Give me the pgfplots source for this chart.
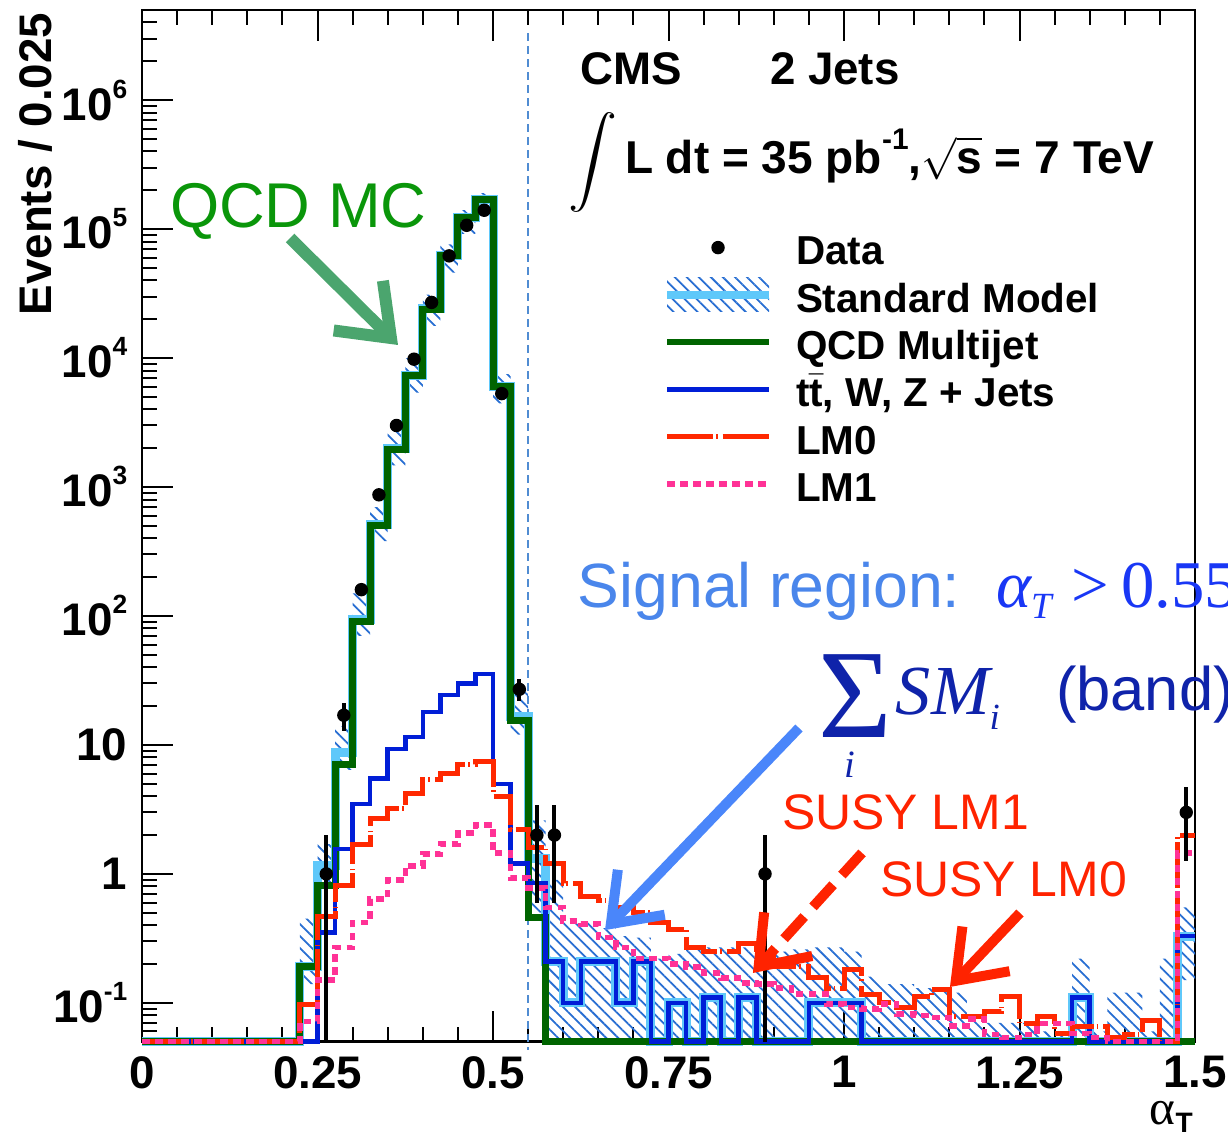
\documentclass[border=0pt]{standalone}
\usepackage{graphicx}
\usepackage{pgfplots}
\pgfplotsset{compat=1.18}
\usepackage{pgfplotstable}
\usepgfplotslibrary{fillbetween}
\usetikzlibrary{patterns.meta,arrows.meta}
\usepackage{fontspec}
\setmainfont{Liberation Sans}
\newfontfamily\timesf{Liberation Serif}

\definecolor{qcdgreen}{RGB}{0,100,0}
\definecolor{ewkblue}{RGB}{0,30,215}
\definecolor{lmred}{RGB}{255,40,0}
\definecolor{lmpink}{RGB}{255,50,150}
\definecolor{smcyan}{RGB}{95,200,250}
\definecolor{hatchblue}{RGB}{40,110,210}
\definecolor{cutblue}{RGB}{80,140,210}
\definecolor{annGreen}{RGB}{10,150,10}
\definecolor{arrGreen}{RGB}{75,165,110}
\definecolor{sigblue}{RGB}{74,134,235}
\definecolor{alphablue}{RGB}{25,55,245}
\definecolor{sumblue}{RGB}{15,35,170}
\definecolor{arrBlue}{RGB}{74,134,250}
\definecolor{susyred}{RGB}{255,35,0}

\newcommand{\tp}[1]{10\raisebox{2.2mm}{\fontsize{7.5}{7.5}\selectfont\bfseries #1}}
\newcommand{\ls}{\rule[-1.05mm]{0pt}{5.05mm}}

\pgfplotstableread{
x qcd ewk sm lo hi lmz lmo
0.000 0.05 0.05 0.05 0.05 0.05 0.05 0.05
0.025 0.05 0.05 0.05 0.05 0.05 0.05 0.05
0.050 0.05 0.05 0.05 0.05 0.05 0.05 0.05
0.075 0.05 0.05 0.05 0.05 0.05 0.05 0.05
0.100 0.05 0.05 0.05 0.05 0.05 0.05 0.05
0.125 0.05 0.05 0.05 0.05 0.05 0.05 0.05
0.150 0.05 0.05 0.05 0.05 0.05 0.05 0.05
0.175 0.05 0.05 0.05 0.05 0.05 0.05 0.05
0.200 0.05 0.05 0.05 0.05 0.05 0.05 0.05
0.225 0.19 0.05 0.19 0.14 0.45 0.098 0.072
0.250 0.81 0.35 1.16 0.86 1.7 0.47 0.15
0.275 7.1 1.56 8.7 6.4 14 0.82 0.27
0.300 91 3.5 94.5 70 150 1.7 0.42
0.325 507 5.5 512 380 700 2.67 0.64
0.350 1970 9.3 1980 1470 2750 3.2 0.9
0.375 7300 11.5 7310 5400 10000 4.2 1.15
0.400 24000 18 24020 17800 31000 5.4 1.43
0.425 62000 24.4 62020 46000 76000 6.0 1.7
0.450 124000 30 124030 92000 140000 7.1 2.08
0.475 171000 35.5 171040 127000 190000 7.4 2.4
0.500 6000 5.0 6005 4450 7500 4.0 1.45
0.525 15.5 1.2 16.7 12 26 2.2 0.93
0.550 0.46 0.85 1.31 0.5 2.6 1.6 0.78
0.575 0.05 0.21 0.21 0.05 0.9 1.2 0.55
0.600 0.05 0.1 0.1 0.05 0.45 0.84 0.43
0.625 0.05 0.21 0.21 0.05 0.42 0.67 0.41
0.650 0.05 0.21 0.21 0.05 0.38 0.62 0.32
0.675 0.05 0.1 0.1 0.05 0.33 0.55 0.27
0.700 0.05 0.21 0.21 0.05 0.32 0.5 0.22
0.725 0.05 0.05 0.05 0.05 0.22 0.42 0.22
0.750 0.05 0.1 0.1 0.05 0.24 0.37 0.2
0.775 0.05 0.05 0.05 0.05 0.26 0.27 0.19
0.800 0.05 0.11 0.11 0.05 0.27 0.25 0.17
0.825 0.05 0.05 0.05 0.05 0.27 0.25 0.156
0.850 0.05 0.11 0.11 0.05 0.27 0.29 0.143
0.875 0.05 0.05 0.05 0.05 0.22 0.24 0.14
0.900 0.05 0.05 0.05 0.05 0.25 0.19 0.13
0.925 0.05 0.05 0.05 0.05 0.26 0.19 0.117
0.950 0.05 0.1 0.1 0.05 0.27 0.156 0.117
0.975 0.05 0.1 0.1 0.05 0.27 0.13 0.098
1.000 0.05 0.1 0.1 0.05 0.25 0.18 0.092
1.025 0.05 0.05 0.05 0.05 0.16 0.117 0.09
1.050 0.05 0.05 0.05 0.05 0.14 0.1 0.098
1.075 0.05 0.05 0.05 0.05 0.14 0.092 0.082
1.100 0.05 0.05 0.05 0.05 0.13 0.113 0.08
1.125 0.05 0.05 0.05 0.05 0.13 0.128 0.077
1.150 0.05 0.05 0.05 0.05 0.12 0.079 0.066
1.175 0.05 0.05 0.05 0.05 0.08 0.079 0.075
1.200 0.05 0.05 0.05 0.05 0.07 0.085 0.057
1.225 0.05 0.05 0.05 0.05 0.07 0.113 0.054
1.250 0.05 0.05 0.05 0.05 0.07 0.069 0.057
1.275 0.05 0.05 0.05 0.05 0.06 0.079 0.069
1.300 0.05 0.05 0.05 0.05 0.06 0.058 0.069
1.325 0.05 0.11 0.11 0.05 0.22 0.066 0.058
1.350 0.05 0.05 0.05 0.05 0.06 0.066 0.054
1.375 0.05 0.05 0.05 0.05 0.12 0.054 0.05
1.400 0.05 0.05 0.05 0.05 0.12 0.057 0.05
1.425 0.05 0.05 0.05 0.05 0.06 0.073 0.05
1.450 0.05 0.05 0.05 0.05 0.22 0.05 0.05
1.475 0.05 0.33 0.33 0.15 0.55 2.0 1.45
1.500 0.05 0.33 0.33 0.15 0.55 2.0 1.45
}\hist

\pgfplotstableread{
x y ep em
0.2625 1 1 0.95
0.2875 17 4.1 4.1
0.3125 160 12.6 12.6
0.3375 870 29.5 29.5
0.3625 3000 55 55
0.3875 9800 99 99
0.4125 27000 164 164
0.4375 62000 249 249
0.4625 107000 327 327
0.4875 140000 374 374
0.5125 5300 73 73
0.5375 27 5.2 5.2
0.5625 2 1.41 1.41
0.5875 2 1.41 1.41
0.8875 1 1 0.95
1.4875 3 1.73 1.73
}\data

\begin{document}
\begin{tikzpicture}[ann/.style={inner sep=0pt, outer sep=0pt}]
\begin{axis}[
  scale only axis, width=105.3mm, height=103.17mm,
  xmin=0, xmax=1.5, ymode=log, ymin=0.05, ymax=5e6,
  clip=false,
  axis line style={line width=0.25mm},
  tick style={line width=0.2mm, black},
  major tick length=3.1mm, minor tick length=1.5mm,
  xtick={0,0.25,0.5,0.75,1,1.25,1.5},
  xticklabels={0,0.25,0.5,0.75,1,1.25,1.5},
  minor x tick num=4,
  xtick pos=both, ytick pos=left,
  ytick={0.1,1,10,100,1000,10000,100000,1000000},
  yticklabels={\tp{-1},1,10,\tp{2},\tp{3},\tp{4},\tp{5},\tp{6}},
  minor ytick={0.06,0.07,0.08,0.09,0.2,0.3,0.4,0.5,0.6,0.7,0.8,0.9,2,3,4,5,6,7,8,9,20,30,40,50,60,70,80,90,200,300,400,500,600,700,800,900,2000,3000,4000,5000,6000,7000,8000,9000,20000,30000,40000,50000,60000,70000,80000,90000,200000,300000,400000,500000,600000,700000,800000,900000,2000000,3000000,4000000},
  tick label style={font=\fontsize{13}{15}\selectfont\bfseries},
  xticklabel style={inner sep=0pt, yshift=-1.4mm},
  yticklabel style={inner sep=0pt, xshift=-1.4mm},
  legend cell align=left,
  legend style={at={(axis description cs:0.4948,0.7926)}, anchor=north west,
    draw=none, fill=none, inner sep=0pt, outer sep=0pt, row sep=0pt,
    nodes={inner sep=0.1mm},
    font=\fontsize{11.5}{13}\selectfont\bfseries,
    /tikz/every odd column/.append style={column sep=2.2mm}},
]
% SM uncertainty band
\addplot[draw=none, name path=hi, const plot, forget plot] table[x=x,y=hi]{\hist};
\addplot[draw=none, name path=lo, const plot, forget plot] table[x=x,y=lo]{\hist};
\addplot[draw=none, pattern={Lines[angle=-45,distance=0.85mm,line width=0.18mm]}, pattern color=hatchblue, forget plot] fill between[of=hi and lo];

\draw[cutblue, line width=0.2mm, dash pattern=on 0.8mm off 0.5mm] (axis cs:0.55,3.3e6) -- (axis cs:0.55,0.043);

\addplot[smcyan, line width=0.9mm, const plot, forget plot] table[x=x,y=sm]{\hist};
\addplot[qcdgreen, line width=0.7mm, const plot, forget plot] table[x=x,y=qcd]{\hist};
\addplot[ewkblue, line width=0.45mm, const plot, forget plot] table[x=x,y=ewk]{\hist};
\addplot[lmred, line width=0.5mm, const plot, dash pattern=on 4.6mm off 0.3mm on 0.15mm off 0.5mm, forget plot] table[x=x,y=lmz]{\hist};
\addplot[lmpink, line width=0.55mm, const plot, dash pattern=on 0.75mm off 0.55mm, forget plot] table[x=x,y=lmo]{\hist};
\addplot[black, only marks, mark=*, mark size=0.6mm, forget plot,
  error bars/.cd, y dir=both, y explicit, error mark=none,
  error bar style={line width=0.4mm, black}]
  table[x=x, y=y, y error plus=ep, y error minus=em]{\data};

% legend
\addlegendimage{legend image code/.code={\path (0mm,0mm) (10.2mm,0mm); \fill[black] (5.1mm,0mm) circle (0.6mm);}}
\addlegendentry{\ls Data}
\addlegendimage{legend image code/.code={\path[draw=none, pattern={Lines[angle=-45,distance=0.85mm,line width=0.18mm]}, pattern color=hatchblue] (0mm,-1.7mm) rectangle (10.2mm,1.7mm); \draw[smcyan,line width=0.8mm] (0mm,0mm) -- (10.2mm,0mm);}}
\addlegendentry{\ls Standard Model}
\addlegendimage{legend image code/.code={\draw[qcdgreen,line width=0.65mm] (0mm,0mm) -- (10.2mm,0mm);}}
\addlegendentry{\ls QCD Multijet}
\addlegendimage{legend image code/.code={\draw[ewkblue,line width=0.45mm] (0mm,0mm) -- (10.2mm,0mm);}}
\addlegendentry{\ls t$\bar{\mbox{t}}$, W, Z + Jets}
\addlegendimage{legend image code/.code={\draw[lmred,line width=0.55mm, dash pattern=on 4.6mm off 0.3mm on 0.15mm off 0.5mm] (0mm,0mm) -- (10.2mm,0mm);}}
\addlegendentry{\ls LM0}
\addlegendimage{legend image code/.code={\draw[lmpink,line width=0.55mm, dash pattern=on 0.75mm off 0.55mm] (0mm,0mm) -- (10.2mm,0mm);}}
\addlegendentry{\ls LM1}

% labels and annotations
\node[ann, rotate=90, anchor=base east, font=\fontsize{13}{13}\selectfont\bfseries] at (axis description cs:-0.0855,0.9971) {Events / 0.025};
\node[ann, anchor=base east] at (axis description cs:0.998,-0.0807) {{\timesf\fontsize{14}{14}\selectfont α}\raisebox{-0.8mm}{\fontsize{8}{8}\selectfont\bfseries T}};

\node[ann, anchor=base west, font=\fontsize{13}{13}\selectfont\bfseries] at (axis description cs:0.416,0.9273) {CMS};
\node[ann, anchor=base west, font=\fontsize{13}{13}\selectfont\bfseries] at (axis description cs:0.5964,0.9273) {2 Jets};
\node[ann, anchor=north west] at (axis description cs:0.4046,0.9002) {\resizebox*{4.9mm}{10mm}{$\displaystyle\int$}};
\node[ann, anchor=base west, font=\fontsize{13.1}{13.1}\selectfont\bfseries] at (axis description cs:0.4587,0.8419) {L dt = 35 pb\raisebox{2.4mm}{\fontsize{8.5}{8.5}\selectfont -1},$\sqrt{\mbox{s}}$ = 7 TeV};

\node[ann, anchor=base west, text=annGreen, font=\fontsize{18}{18}\selectfont] at (axis description cs:0.0266,0.7887) {QCD MC};
\draw[arrGreen, line width=1.2mm, -{Straight Barb[length=4.6mm,width=7mm]}] (axis description cs:0.1406,0.7790) -- (axis description cs:0.2431,0.6753);

\node[ann, anchor=base west, text=sigblue, font=\fontsize{17.8}{17.8}\selectfont] at (axis description cs:0.414,0.4213) {Signal region:};
\node[ann, anchor=base west, text=alphablue, font=\timesf\fontsize{19}{19}\selectfont] at (axis description cs:0.811,0.4213) {\itshape α\raisebox{-1.1mm}{\fontsize{10.5}{10.5}\selectfont T}\upshape\hspace{2mm}>\hspace{1.2mm}0.55};

\node[ann, anchor=base west, text=sumblue, font=\timesf\fontsize{36}{36}\selectfont] at (axis description cs:0.642,0.2944) {Σ};
\node[ann, anchor=base, text=sumblue, font=\timesf\itshape\fontsize{11}{11}\selectfont] at (axis description cs:0.6724,0.2556) {i};
\node[ann, anchor=base west, text=sumblue, font=\timesf\itshape\fontsize{20}{20}\selectfont] at (axis description cs:0.716,0.3167) {SM\raisebox{-1.5mm}{\fontsize{10.5}{10.5}\selectfont i}};
\node[ann, anchor=base west, text=sumblue, font=\fontsize{17.5}{17.5}\selectfont] at (axis description cs:0.868,0.3215) {(band)};
\draw[arrBlue, line width=1.0mm, -{Straight Barb[length=4.4mm,width=6.5mm]}] (axis description cs:0.6239,0.3041) -- (axis description cs:0.4397,0.1082);

\node[ann, anchor=base west, text=susyred, font=\fontsize{14.2}{14.2}\selectfont] at (axis description cs:0.6078,0.2052) {SUSY LM1};
\node[ann, anchor=base west, text=susyred, font=\fontsize{14.2}{14.2}\selectfont] at (axis description cs:0.7009,0.1403) {SUSY LM0};
\draw[susyred, line width=1.0mm, dash pattern=on 3mm off 1.3mm, -{Straight Barb[length=4.4mm,width=6.5mm]}] (axis description cs:0.6838,0.1830) -- (axis description cs:0.5802,0.0666);
\draw[susyred, line width=1.0mm, -{Straight Barb[length=4.4mm,width=6.5mm]}] (axis description cs:0.8338,0.1248) -- (axis description cs:0.7673,0.0531);
\end{axis}
\pgfresetboundingbox
\path (-14.2mm,-9.93mm) rectangle (108.6mm,104.17mm);
\end{tikzpicture}
\end{document}
